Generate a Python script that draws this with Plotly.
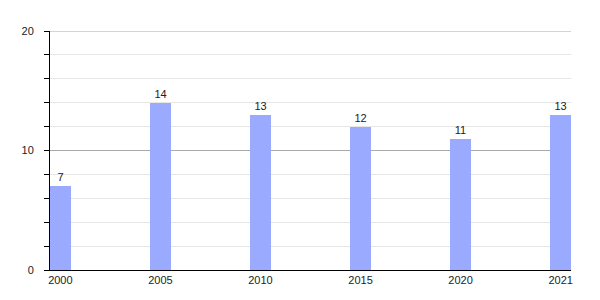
import plotly.graph_objects as go

years = ["2000", "2005", "2010", "2015", "2020", "2021"]
values = [7, 14, 13, 12, 11, 13]
y_max = 20

fig = go.Figure()
fig.add_trace(go.Bar(
    x=years, y=values,
    marker=dict(color="#99aaff", line=dict(width=0)),
    width=0.207,
    text=[str(v) for v in values],
    textposition="outside",
    textfont=dict(family="Liberation Sans, Arial", size=11, color="#222"),
    cliponaxis=False,
))

# top major gridline (Plotly hides gridline at the range edge)
fig.add_hline(y=y_max, line=dict(color="#aaaaaa", width=1), layer="above")

fig.update_layout(
    width=600, height=300,
    margin=dict(l=50, r=29, t=31, b=30),
    paper_bgcolor="white", plot_bgcolor="white",
    font=dict(family="Liberation Sans, Arial", size=11, color="#222"),
    showlegend=False,
    bargap=0,
    xaxis=dict(
        type="category",
        range=[-0.1035, 5.1035],
        showline=True, linecolor="black", linewidth=1,
        showgrid=False, ticks="", ticklabelstandoff=0,
        tickfont=dict(size=11, color="#222"),
    ),
    yaxis=dict(
        range=[0, y_max], dtick=10, tick0=0,
        showline=True, linecolor="black", linewidth=1,
        showgrid=True, gridcolor="#aaaaaa", gridwidth=1,
        ticks="outside", ticklen=5, tickcolor="black",
        ticklabelstandoff=8,
        zeroline=False,
        tickfont=dict(size=11, color="#222"),
        minor=dict(dtick=2, showgrid=True, gridcolor="#e6e6e6",
                   ticks="outside", ticklen=5, tickcolor="black"),
    ),
)

fig.write_html("out.html")
